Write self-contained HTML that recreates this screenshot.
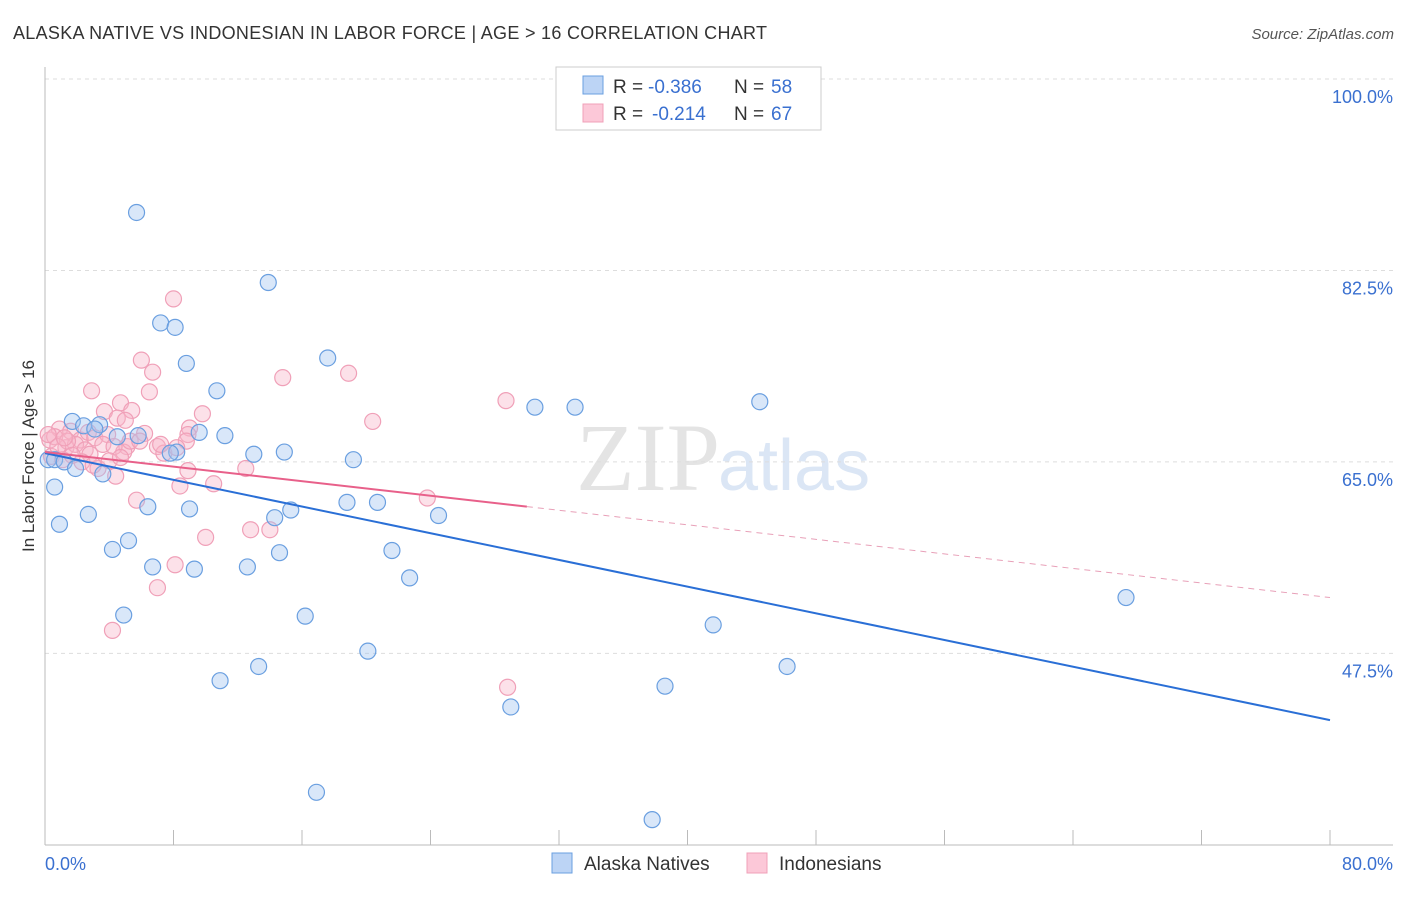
<!DOCTYPE html>
<html><head><meta charset="utf-8"><style>
body{margin:0;background:#fff;font-family:"Liberation Sans",sans-serif;}
</style></head><body>
<svg width="1406" height="892" xmlns="http://www.w3.org/2000/svg" id="chart">
<text x="13" y="39" font-size="18" fill="#333" textLength="754">ALASKA NATIVE VS INDONESIAN IN LABOR FORCE | AGE &gt; 16 CORRELATION CHART</text>
<text x="1394" y="39" font-size="15" fill="#555" text-anchor="end" font-style="italic">Source: ZipAtlas.com</text>
<text transform="translate(34,456) rotate(-90)" font-size="17" fill="#333" text-anchor="middle">In Labor Force | Age &gt; 16</text>
<text x="720" y="490" font-size="96" fill="#e4e4e4" text-anchor="end" font-family="Liberation Serif">ZIP</text>
<text x="718" y="490" font-size="72" fill="#dbe6f5">atlas</text>
<g id="grid"></g><g id="ticks"></g><g id="pts"></g><g id="lines"></g>
<g>
<rect x="556" y="67" width="265" height="63" fill="#fff" stroke="#ccc"/>
<rect x="583" y="76" width="20" height="18" fill="#bcd4f5" stroke="#6a9fe0"/>
<text x="613" y="93" font-size="19" fill="#333">R =</text>
<text x="648" y="93" font-size="19" fill="#3a70d0">-0.386</text>
<text x="734" y="93" font-size="19" fill="#333">N =</text>
<text x="771" y="93" font-size="19" fill="#3a70d0">58</text>
<rect x="583" y="104" width="20" height="18" fill="#fcc8d8" stroke="#f0a0b8"/>
<text x="613" y="120" font-size="19" fill="#333">R =</text>
<text x="652" y="120" font-size="19" fill="#3a70d0">-0.214</text>
<text x="734" y="120" font-size="19" fill="#333">N =</text>
<text x="771" y="120" font-size="19" fill="#3a70d0">67</text>
</g>
<g>
<rect x="552" y="853" width="20" height="20" fill="#bcd4f5" stroke="#6a9fe0"/>
<text x="584" y="870" font-size="19" fill="#333">Alaska Natives</text>
<rect x="747" y="853" width="20" height="20" fill="#fcc8d8" stroke="#f0a0b8"/>
<text x="779" y="870" font-size="19" fill="#333">Indonesians</text>
</g>
</svg>
<script>
const blueX=[5.7,13.9,7.2,8.1,8.8,17.6,10.7,30.5,33.0,44.5,1.7,2.4,3.4,4.5,5.8,9.6,11.2,0.2,0.6,1.2,1.9,3.6,8.2,7.8,13.0,14.9,19.2,0.6,0.9,2.7,6.4,9.0,18.8,20.7,15.3,14.3,24.5,4.2,5.2,14.6,21.6,6.7,9.3,12.6,22.7,4.9,16.2,41.6,67.3,13.3,10.9,20.1,38.6,46.2,29.0,16.9,37.8,3.1];
const blueY=[87.8,81.4,77.7,77.3,74.0,74.5,71.5,70.0,70.0,70.5,68.7,68.3,68.4,67.3,67.4,67.7,67.4,65.2,65.2,65.0,64.4,63.9,65.9,65.8,65.7,65.9,65.2,62.7,59.3,60.2,60.9,60.7,61.3,61.3,60.6,59.9,60.1,57.0,57.8,56.7,56.9,55.4,55.2,55.4,54.4,51.0,50.9,50.1,52.6,46.3,45.0,47.7,44.5,46.3,42.6,34.8,32.3,68.0];
const pinkX=[8.0,6.0,6.7,14.8,18.9,2.9,6.5,4.7,3.7,5.4,4.5,5.0,9.8,20.4,28.7,0.9,1.6,2.2,2.7,3.1,3.9,6.2,9.0,8.9,8.8,7.0,7.4,8.2,5.1,4.9,1.3,1.9,2.5,2.8,0.3,0.4,1.1,3.3,4.4,8.9,12.5,10.5,8.4,23.8,5.7,14.0,12.8,10.0,8.1,7.0,4.2,28.8,0.6,1.4,3.6,4.3,2.3,3.0,0.2,5.3,5.9,4.0,1.7,0.8,1.2,7.2,4.7];
const pinkY=[79.9,74.3,73.2,72.7,73.1,71.5,71.4,70.4,69.6,69.7,69.0,68.8,69.4,68.7,70.6,68.0,67.8,67.0,67.7,67.2,67.5,67.6,68.1,67.5,66.9,66.4,65.8,66.3,66.4,65.9,66.3,66.6,66.1,65.7,67.0,65.5,65.2,64.4,63.7,64.2,64.4,63.0,62.8,61.7,61.5,58.8,58.8,58.1,55.6,53.5,49.6,44.4,67.3,66.9,66.6,66.4,65.0,64.7,67.5,66.9,66.9,65.1,65.6,66.4,67.2,66.6,65.4];
const blueTrend=[65.8,41.4];
const pinkTrend=[65.9,52.6];
const pinkSolidEnd=30;
const yTicks=[100,82.5,65,47.5];
const xTickLabels=["0.0%","80.0%"];
const NS="http://www.w3.org/2000/svg";
const X=v=>45+v*1285/80, Y=v=>79+(100-v)*10.94;
function mk(tag,attrs,parent){const e=document.createElementNS(NS,tag);for(const k in attrs)e.setAttribute(k,attrs[k]);document.getElementById(parent).appendChild(e);return e;}
yTicks.forEach(t=>{
 const l=mk('line',{x1:45,x2:1393,y1:Y(t),y2:Y(t),stroke:'#ddd','stroke-dasharray':'4,4'},'grid');
 
 
 const tx=mk('text',{x:1393,y:Y(t)+24,'font-size':18,fill:'#3a70d0','text-anchor':'end'},'grid');
 tx.textContent=t.toFixed(1)+'%';
 
 
});
const ax=mk('line',{x1:45,x2:45,y1:67,y2:845,stroke:'#bbb'},'ticks');


const bx=mk('line',{x1:45,x2:1393,y1:845,y2:845,stroke:'#bbb'},'ticks');


for(let i=0;i<=10;i++){const t=mk('line',{x1:X(i*8),x2:X(i*8),y1:830,y2:845,stroke:'#bbb'},'ticks');
 
 }
[[0,'start',45],[1,'end',1393]].forEach(([i,a,x])=>{const t=mk('text',{x:x,y:870,'font-size':18,fill:'#3a70d0','text-anchor':a},'ticks');t.textContent=xTickLabels[i];
 
 });
pinkX.forEach((x,i)=>{const c=mk('circle',{cx:X(x),cy:Y(pinkY[i]),r:8,fill:'rgba(248,180,200,0.4)',stroke:'#f0a0b8','stroke-width':1.2},'pts');
 
 });
blueX.forEach((x,i)=>{const c=mk('circle',{cx:X(x),cy:Y(blueY[i]),r:8,fill:'rgba(160,196,240,0.4)',stroke:'#6a9fe0','stroke-width':1.2},'pts');
 
 });
const pv=x=>pinkTrend[0]+(pinkTrend[1]-pinkTrend[0])*x/80;
const bl=mk('line',{x1:X(0),y1:Y(blueTrend[0]),x2:X(80),y2:Y(blueTrend[1]),stroke:'#2a6fd6','stroke-width':2},'lines');


const pl=mk('line',{x1:X(0),y1:Y(pv(0)),x2:X(pinkSolidEnd),y2:Y(pv(pinkSolidEnd)),stroke:'#e8608a','stroke-width':2},'lines');


const pd=mk('line',{x1:X(pinkSolidEnd),y1:Y(pv(pinkSolidEnd)),x2:X(80),y2:Y(pv(80)),stroke:'#e8a0b8','stroke-width':1,'stroke-dasharray':'6,5'},'lines');


</script>
</body></html>
